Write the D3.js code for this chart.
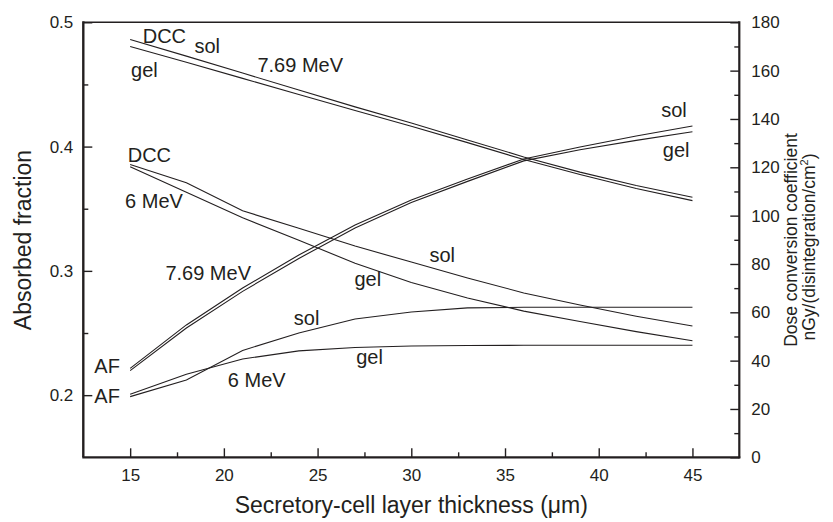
<html>
<head>
<meta charset="utf-8">
<script src="https://d3js.org/d3.v7.min.js"></script>
<style>
  body { margin: 0; background: #fff; }
  text { font-family: "Liberation Sans", Arial, sans-serif; fill: #231f20; }
</style>
</head>
<body>
<div id="chart"></div>
<script>
// layer thickness (um)
var thickness = [15, 18, 21, 24, 27, 30, 33, 36, 39, 42, 45];

// dose conversion coefficient, right axis
var dcc769Sol = [172.9, 166.0, 159.0, 152.0, 145.0, 138.3, 131.3, 124.3, 118.0, 112.5, 107.6];
var dcc769Gel = [170.0, 163.5, 156.8, 150.1, 143.5, 137.0, 130.2, 123.2, 117.0, 111.2, 106.2];
var dcc6Sol = [121.2, 113.6, 102.0, 94.8, 87.4, 80.8, 74.2, 68.0, 63.0, 58.4, 54.3];
var dcc6Gel = [120.2, 109.7, 99.1, 89.8, 80.3, 72.3, 65.9, 60.5, 56.2, 52.0, 48.2];

// absorbed fraction, left axis
var af769Sol = [0.2216, 0.2565, 0.2862, 0.3128, 0.3369, 0.3570, 0.3739, 0.3900, 0.3997, 0.4085, 0.4166];
var af769Gel = [0.2197, 0.2540, 0.2835, 0.3100, 0.3345, 0.3550, 0.3720, 0.3885, 0.3975, 0.4050, 0.4120];
var af6Sol = [0.1988, 0.2122, 0.2360, 0.2500, 0.2613, 0.2669, 0.2702, 0.2707, 0.2707, 0.2707, 0.2707];
var af6Gel = [0.2007, 0.2168, 0.2291, 0.2356, 0.2384, 0.2396, 0.2400, 0.2401, 0.2401, 0.2401, 0.2401];

var xTicks = [15, 20, 25, 30, 35, 40, 45];
var leftTicks = [0.2, 0.3, 0.4, 0.5];
var rightTicks = [0, 20, 40, 60, 80, 100, 120, 140, 160, 180];

// curve labels, placed in (thickness, absorbed fraction) units
var labelText = ["DCC", "sol", "gel", "7.69 MeV", "DCC", "6 MeV", "7.69 MeV", "gel", "sol", "sol", "gel", "AF", "AF", "6 MeV", "sol", "gel"];
var labelX = [15.67, 18.43, 15.05, 21.79, 14.87, 14.73, 16.88, 26.97, 30.97, 23.73, 27.06, 13.09, 13.09, 20.21, 43.33, 43.42];
var labelY = [0.4831, 0.4755, 0.4558, 0.4598, 0.3879, 0.3504, 0.2927, 0.2879, 0.3074, 0.2565, 0.2249, 0.2181, 0.1937, 0.2064, 0.4241, 0.3914];

var width = 833, height = 522;
var plotL = 83.3, plotR = 739.3, plotT = 22.3, plotB = 457.3;

var svg = d3.select('#chart').append('svg')
  .attr('width', width)
  .attr('height', height);

var x = d3.scaleLinear().domain([12.5, 47.5]).range([plotL, plotR]);
var yL = d3.scaleLinear().domain([0.15, 0.5]).range([plotB, plotT]);
var yR = d3.scaleLinear().domain([0, 180]).range([plotB, plotT]);

var ink = '#231f20';

// curves
var dccSeries = [dcc769Sol, dcc769Gel, dcc6Sol, dcc6Gel];
var afSeries = [af769Sol, af769Gel, af6Sol, af6Gel];

var lineR = d3.line().x(function(d, i) { return x(thickness[i]); }).y(function(d) { return yR(d); });
var lineL = d3.line().x(function(d, i) { return x(thickness[i]); }).y(function(d) { return yL(d); });

svg.selectAll('.dcc').data(dccSeries).enter().append('path')
  .attr('class', 'dcc')
  .attr('d', lineR)
  .attr('fill', 'none')
  .attr('stroke', ink)
  .attr('stroke-width', 1.1);

svg.selectAll('.af').data(afSeries).enter().append('path')
  .attr('class', 'af')
  .attr('d', lineL)
  .attr('fill', 'none')
  .attr('stroke', ink)
  .attr('stroke-width', 1.1);

// axes, ticks pointing inwards
function styleAxis(g) {
  g.select('.domain').remove();
  g.selectAll('line').attr('stroke', ink).attr('stroke-width', 1.4);
  g.selectAll('text').attr('font-size', '17px').attr('font-family', '"Liberation Sans", Arial, sans-serif').attr('fill', ink);
}

var minorX = d3.range(17.5, 45, 5);
svg.append('g').attr('transform', 'translate(0,' + plotB + ')')
  .call(d3.axisBottom(x).tickValues(minorX).tickSize(-5).tickFormat(''))
  .call(styleAxis);
svg.append('g').attr('transform', 'translate(0,' + plotB + ')')
  .call(d3.axisBottom(x).tickValues(xTicks).tickSize(-9).tickPadding(12).tickFormat(d3.format('d')))
  .call(styleAxis);

svg.append('g').attr('transform', 'translate(' + plotL + ',0)')
  .call(d3.axisLeft(yL).tickValues([0.25, 0.35, 0.45]).tickSize(-5).tickFormat(''))
  .call(styleAxis);
svg.append('g').attr('transform', 'translate(' + plotL + ',0)')
  .call(d3.axisLeft(yL).tickValues(leftTicks).tickSize(-9).tickPadding(10).tickFormat(d3.format('.1f')))
  .call(styleAxis);

var minorR = d3.range(10, 180, 20);
svg.append('g').attr('transform', 'translate(' + plotR + ',0)')
  .call(d3.axisRight(yR).tickValues(minorR).tickSize(-5).tickFormat(''))
  .call(styleAxis);
svg.append('g').attr('transform', 'translate(' + plotR + ',0)')
  .call(d3.axisRight(yR).tickValues(rightTicks).tickSize(-9).tickPadding(12).tickFormat(d3.format('d')))
  .call(styleAxis);

// frame
svg.append('line').attr('x1', plotL).attr('x2', plotR).attr('y1', plotT).attr('y2', plotT)
  .attr('stroke', ink).attr('stroke-width', 1.6);
svg.append('line').attr('x1', plotL - 1).attr('x2', plotR + 1).attr('y1', plotB).attr('y2', plotB)
  .attr('stroke', ink).attr('stroke-width', 2.2);
svg.append('line').attr('x1', plotL).attr('x2', plotL).attr('y1', plotT - 1).attr('y2', plotB)
  .attr('stroke', ink).attr('stroke-width', 2.4);
svg.append('line').attr('x1', plotR).attr('x2', plotR).attr('y1', plotT - 1).attr('y2', plotB + 1)
  .attr('stroke', ink).attr('stroke-width', 2.2);

// curve labels
svg.selectAll('.lbl').data(labelText).enter().append('text')
  .attr('class', 'lbl')
  .attr('x', function(d, i) { return x(labelX[i]); })
  .attr('y', function(d, i) { return yL(labelY[i]); })
  .attr('font-size', '20px')
  .text(function(d) { return d; });

// axis titles
svg.append('text')
  .attr('transform', 'translate(31,240) rotate(-90)')
  .attr('text-anchor', 'middle')
  .attr('font-size', '23px')
  .text('Absorbed fraction');

svg.append('text')
  .attr('x', (plotL + plotR) / 2)
  .attr('y', 513)
  .attr('text-anchor', 'middle')
  .attr('font-size', '23px')
  .text('Secretory-cell layer thickness (\u03bcm)');

svg.append('text')
  .attr('transform', 'translate(797,240) rotate(-90)')
  .attr('text-anchor', 'middle')
  .attr('font-size', '17.5px')
  .text('Dose conversion coefficient');

var t2 = svg.append('text')
  .attr('transform', 'translate(815,247) rotate(-90)')
  .attr('text-anchor', 'middle')
  .attr('font-size', '17.5px');
t2.append('tspan').text('nGy/(disintegration/cm');
t2.append('tspan').attr('font-size', '11px').attr('dy', '-7').text('2');
t2.append('tspan').attr('dy', '7').text(')');
</script>
</body>
</html>
